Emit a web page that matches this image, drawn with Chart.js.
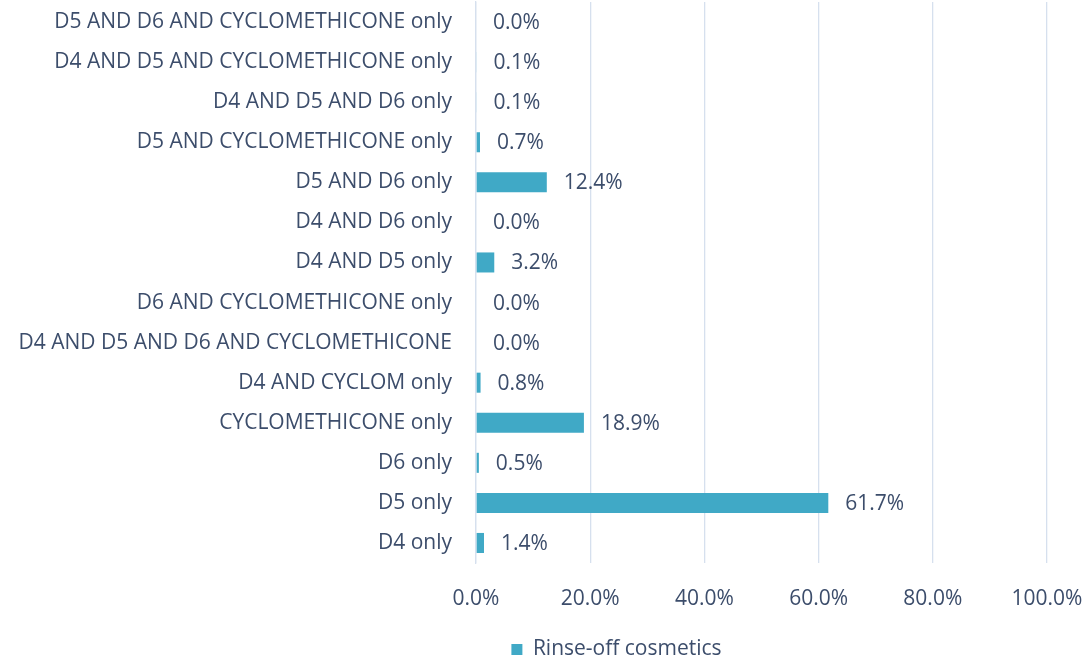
<!DOCTYPE html>
<html>
<head>
<meta charset="utf-8">
<script src="https://cdn.jsdelivr.net/npm/chart.js@4/dist/chart.umd.min.js"></script>
<style>
  html, body { margin: 0; padding: 0; background: #fff; }
  #wrap { width: 1089px; height: 662px; }
</style>
</head>
<body>
<div id="wrap"><canvas id="myChart"></canvas></div>
<script>
// categories, top to bottom
var categories = [
  'D5 AND D6 AND CYCLOMETHICONE only',
  'D4 AND D5 AND CYCLOMETHICONE only',
  'D4 AND D5 AND D6 only',
  'D5 AND CYCLOMETHICONE only',
  'D5 AND D6 only',
  'D4 AND D6 only',
  'D4 AND D5 only',
  'D6 AND CYCLOMETHICONE only',
  'D4 AND D5 AND D6 AND CYCLOMETHICONE',
  'D4 AND CYCLOM only',
  'CYCLOMETHICONE only',
  'D6 only',
  'D5 only',
  'D4 only'
];
var rinseOff = [0.0, 0.1, 0.1, 0.7, 12.4, 0.0, 3.2, 0.0, 0.0, 0.8, 18.9, 0.5, 61.7, 1.4];
var seriesName = 'Rinse-off cosmetics';
var xTicks = [0, 20, 40, 60, 80, 100];

var textColor = '#3c4d6b';
var fontFamily = '"Open Sans", sans-serif';

//draws "x.x%" to the right of each bar
var valueLabels = {
  id: 'valueLabels',
  afterDatasetsDraw: function(chart){
    var ctx = chart.ctx;
    var meta = chart.getDatasetMeta(0);
    ctx.save();
    ctx.font = '21px ' + fontFamily;
    ctx.fillStyle = textColor;
    ctx.textAlign = 'left';
    ctx.textBaseline = 'middle';
    meta.data.forEach(function(bar, i){
      ctx.fillText(rinseOff[i].toFixed(1) + '%', bar.x + 17, bar.y + 1);
    });
    ctx.restore();
  }
};

//legend in the original sits a bit right of centre
var legendShift = {
  id: 'legendShift',
  afterLayout: function(chart){
    chart.legend.left += 93;
    chart.legend.right += 93;
  }
};

var ctx = document.getElementById('myChart').getContext('2d');
var chart = new Chart(ctx, {
  type: 'bar',
  data: {
    labels: categories,
    datasets: [{
      label: seriesName,
      data: rinseOff,
      backgroundColor: '#40a9c6',
      borderWidth: 0,
      barPercentage: 0.5,
      categoryPercentage: 1.0
    }]
  },
  options: {
    indexAxis: 'y',
    responsive: true,
    maintainAspectRatio: false,
    animation: false,
    layout: { padding: { left: 0, right: 42, top: 2, bottom: -8 } },
    scales: {
      x: {
        min: 0,
        max: 100,
        afterBuildTicks: function(scale){
          scale.ticks = xTicks.map(function(v){ return { value: v }; });
        },
        afterFit: function(scale){
          scale.height = 71;
          scale.paddingLeft = 0; //layout padding already leaves room for "100.0%"
          scale.paddingRight = 0;
        },
        grid: { color: '#d6e0ee', lineWidth: 1.3, drawTicks: false },
        border: { display: false },
        ticks: {
          padding: 23,
          maxRotation: 0,
          minRotation: 0,
          color: textColor,
          font: { size: 21, family: fontFamily },
          callback: function(v){ return v.toFixed(1) + '%'; }
        }
      },
      y: {
        afterFit: function(scale){
          scale.width = 476;
          scale.paddingTop = 0; //no extra room needed, bars are offset
          scale.paddingBottom = 0;
        },
        grid: { display: false, drawTicks: false },
        border: { display: true, color: '#d6e0ee', width: 1.3 },
        ticks: {
          padding: 24,
          color: textColor,
          font: { size: 21, family: fontFamily },
          autoSkip: false
        }
      }
    },
    plugins: {
      legend: {
        position: 'bottom',
        labels: {
          color: textColor,
          font: { size: 21, family: fontFamily },
          boxWidth: 11,
          boxHeight: 11,
          padding: 5
        }
      },
      tooltip: { enabled: false }
    }
  },
  plugins: [valueLabels, legendShift]
});
</script>
</body>
</html>
